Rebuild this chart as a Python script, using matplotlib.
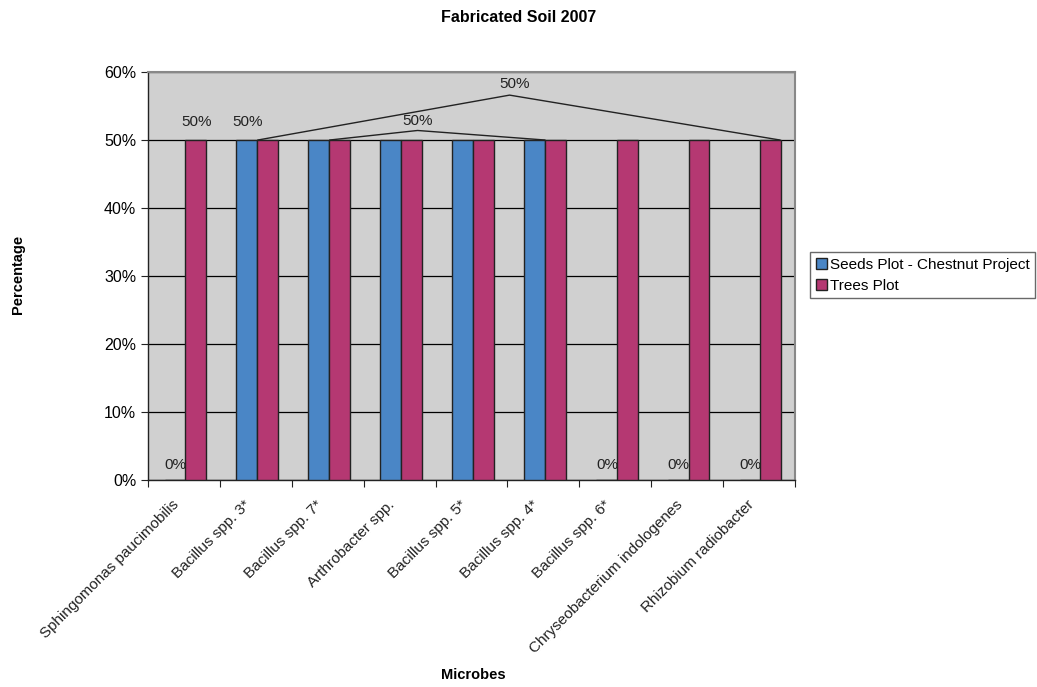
import matplotlib.pyplot as plt
import matplotlib.ticker as mtick
import matplotlib.transforms as mtrans
import numpy as np

plt.rcParams['font.family'] = ['Liberation Sans', 'DejaVu Sans']

microbes = [
    'Sphingomonas paucimobilis', 'Bacillus spp. 3*', 'Bacillus spp. 7*',
    'Arthrobacter spp.', 'Bacillus spp. 5*', 'Bacillus spp. 4*',
    'Bacillus spp. 6*', 'Chryseobacterium indologenes', 'Rhizobium radiobacter',
]
seeds_plot = [0, 50, 50, 50, 50, 50, 0, 0, 0]
trees_plot = [50, 50, 50, 50, 50, 50, 50, 50, 50]

SEEDS_COLOR = '#4A86C6'
TREES_COLOR = '#B53872'
BG = '#D0D0D0'

fig = plt.figure(figsize=(10.37, 6.87), dpi=100)
ax = fig.add_axes([0.1427, 0.3013, 0.6239, 0.5939])
ax.set_facecolor(BG)

x = np.arange(len(microbes))
w = 0.29
ax.bar(x - w / 2 + 0.02, seeds_plot, w, color=SEEDS_COLOR, edgecolor='#222222',
       linewidth=1.0, label='Seeds Plot - Chestnut Project', zorder=3)
ax.bar(x + w / 2 + 0.02, trees_plot, w, color=TREES_COLOR, edgecolor='#222222',
       linewidth=1.0, label='Trees Plot', zorder=3)

ax.set_xlim(-0.5, len(microbes) - 0.5)
ax.set_ylim(0, 60)
ax.yaxis.set_major_locator(mtick.MultipleLocator(10))
ax.yaxis.set_major_formatter(mtick.PercentFormatter(decimals=0))
ax.grid(axis='y', color='black', linewidth=0.9, zorder=1)

# ticks at category boundaries, labels at centres
ax.set_xticks(np.arange(-0.5, len(microbes)), [])
ax.set_xticks(x, microbes, minor=True)
ax.tick_params(axis='x', which='minor', length=0)
ax.tick_params(axis='x', which='major', length=5, direction='out', color='#222222')
ax.tick_params(axis='y', length=5, direction='out', color='#222222', labelsize=11.5)
shift = mtrans.ScaledTranslation(-12 / 100, -13 / 100, fig.dpi_scale_trans)
for lab in ax.get_xticklabels(minor=True):
    lab.set_rotation(45)
    lab.set_ha('right')
    lab.set_rotation_mode('anchor')
    lab.set_fontsize(11)
    lab.set_color('#222222')
    lab.set_transform(lab.get_transform() + shift)

for s in ['top', 'right']:
    ax.spines[s].set_color('#888888')
    ax.spines[s].set_linewidth(1.5)
for s in ['left', 'bottom']:
    ax.spines[s].set_color('#222222')
    ax.spines[s].set_linewidth(1.0)

# data labels
lab_kw = dict(ha='center', va='center', fontsize=11, color='#222222', zorder=5)
for i, v in enumerate(seeds_plot):
    if v == 0:
        ax.text(x[i] - w / 2 + 0.03, 2.2, '0%', **lab_kw)
ax.text(0.17, 52.6, '50%', **lab_kw)
ax.text(0.89, 52.6, '50%', **lab_kw)
ax.text(3.25, 52.8, '50%', **lab_kw)
ax.text(4.6, 58.3, '50%', **lab_kw)

# leader lines from dragged labels
ax.plot([1.03, 4.53, 8.29], [50, 56.6, 50], color='#222222', lw=1.0, zorder=4)
ax.plot([2.03, 3.25, 5.02], [50, 51.4, 50], color='#222222', lw=1.0, zorder=4)

fig.text(0.5, 0.975, 'Fabricated Soil 2007', ha='center', va='center',
         fontsize=11.5, fontweight='bold')
fig.text(0.017, 0.6, 'Percentage', rotation=90, ha='center', va='center',
         fontsize=10.5, fontweight='bold')
fig.text(0.456, 0.017, 'Microbes', ha='center', va='center',
         fontsize=10.5, fontweight='bold')

leg = ax.legend(loc='upper left', bbox_to_anchor=(1.024, 0.558), frameon=True,
                fancybox=False, edgecolor='#444444', fontsize=11,
                handlelength=0.7, handleheight=0.7, handletextpad=0.2,
                borderpad=0.35, labelspacing=0.45, borderaxespad=0)
leg.get_frame().set_linewidth(1.0)

fig.savefig('out.png', dpi=100)
